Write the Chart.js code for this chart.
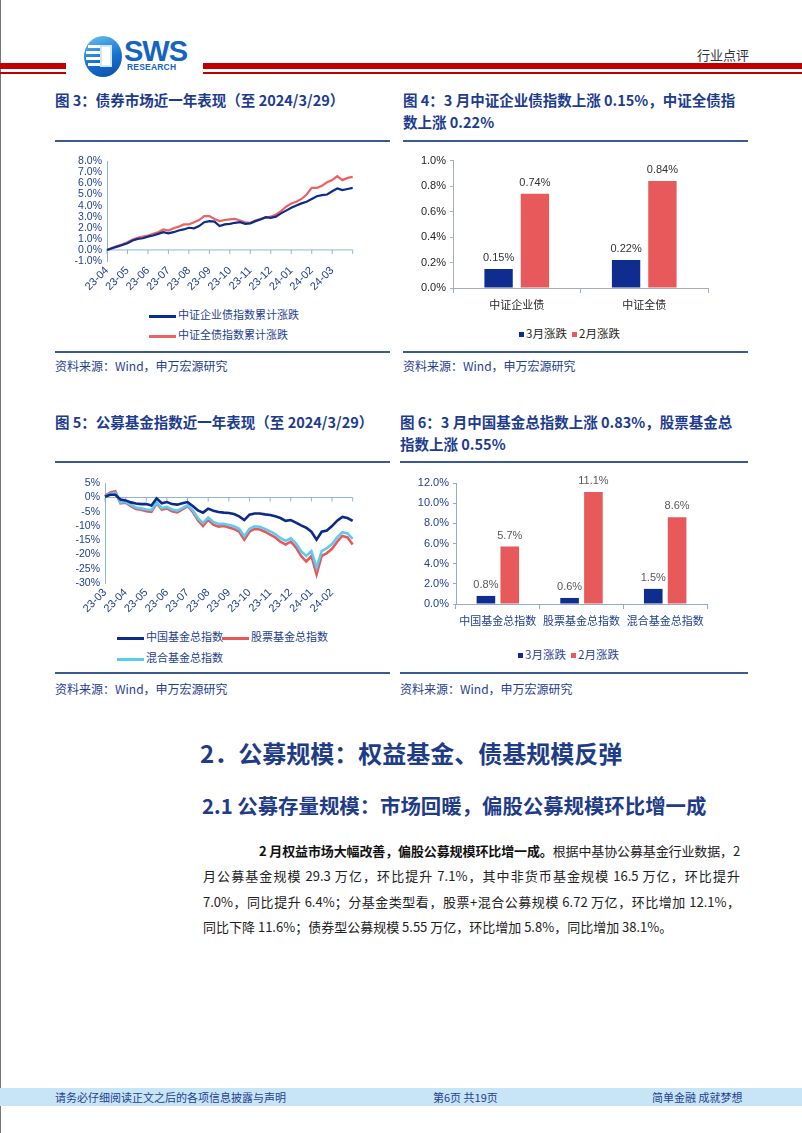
<!DOCTYPE html>
<html lang="zh-CN">
<head>
<meta charset="UTF-8">
<script src="https://cdn.jsdelivr.net/npm/chart.js"></script>
<style>
    body {
        margin: 0;
        width: 802px;
        height: 1133px;
        position: relative;
        overflow: hidden;
        background: #fff;
        font-family: 'Noto Sans CJK SC', sans-serif;
    }
    .abs { position: absolute; }
    .page-edge { left: 0; top: 0; width: 1px; height: 1133px; background: #777; }
    .red-thick { height: 6px; background: #c00000; top: 63px; }
    .red-thin { height: 2px; background: #c00000; top: 72px; }
    .fig-title {
        font-size: 14.5px;
        font-weight: bold;
        color: #1d3c8f;
        line-height: 22px;
    }
    .rule { height: 2px; background: #3b5a92; }
    .source { font-size: 12px; color: #1f3f8f; line-height: 18px; }
    .legend { font-size: 11px; line-height: 16px; white-space: nowrap; }
    .legend .ln { display: inline-block; width: 27px; height: 3px; vertical-align: middle; margin-right: 2px; }
    .legend .sq { display: inline-block; width: 5px; height: 5px; vertical-align: middle; margin-right: 2px; }
    .h2 { font-size: 24px; font-weight: bold; color: #1f3c88; line-height: 30px; }
    .h3 { font-size: 20.4px; font-weight: bold; color: #1f3c88; line-height: 28px; }
    .para { left: 203px; top: 838px; width: 537px; font-size: 13px; color: #222; line-height: 25.3px; }
    .para div { text-align: justify; text-align-last: justify; }
    .para div.first { padding-left: 56px; letter-spacing: -0.2px; }
    .para div.last { text-align-last: left; }
    .footer { left: 0; top: 1088px; width: 802px; height: 18px; background: #c8e5f8; }
    .footer span { position: absolute; font-size: 11px; color: #1f3f8f; line-height: 18px; top: 0; }
</style>
</head>
<body>
<div class="abs page-edge"></div>

<!-- header -->
<div class="abs red-thick" style="left:0;width:66px"></div>
<div class="abs red-thin" style="left:0;width:66px"></div>
<div class="abs red-thick" style="left:203px;width:599px"></div>
<div class="abs red-thin" style="left:203px;width:599px"></div>
<div class="abs" style="left:84px;top:36px;width:38px;height:41px;border-radius:50%;background:linear-gradient(160deg,#6cc3f5,#1673cf 55%,#0b4aa8)"></div>
<div class="abs" style="left:88px;top:45px;width:12px;height:3px;background:#fff"></div>
<div class="abs" style="left:86px;top:51px;width:14px;height:3px;background:#fff"></div>
<div class="abs" style="left:86px;top:57px;width:14px;height:3px;background:#fff"></div>
<div class="abs" style="left:88px;top:63px;width:12px;height:3px;background:#fff"></div>
<div class="abs" style="left:100px;top:45px;width:12px;height:22px;background:#fff;border:2px solid #cfe8fb;box-sizing:border-box"></div>
<div class="abs" style="left:124px;top:36px;font-family:'Liberation Sans',sans-serif;font-weight:bold;font-size:29px;color:#1565c0;letter-spacing:-1px;line-height:30px">SWS</div>
<div class="abs" style="left:127px;top:62px;font-family:'Liberation Sans',sans-serif;font-weight:bold;font-size:8.5px;color:#1565c0;line-height:10px;letter-spacing:0.2px">RESEARCH</div>
<div class="abs" style="left:697px;top:46px;font-size:13px;color:#333;line-height:18px">行业点评</div>

<!-- figure titles row 1 -->
<div class="abs fig-title" style="left:55px;top:89px">图 3：债券市场近一年表现（至 2024/3/29）</div>
<div class="abs fig-title" style="left:403px;top:89px;width:350px">图 4：3 月中证企业债指数上涨 0.15%，中证全债指<br>数上涨 0.22%</div>
<div class="abs rule" style="left:55px;top:140px;width:335px"></div>
<div class="abs rule" style="left:403px;top:140px;width:345px"></div>

<div class="abs" style="left:55px;top:150px;width:310px;height:150px"><canvas id="bondLine"></canvas></div>
<div class="abs legend" style="left:149px;top:306px;color:#1f3f8f"><span class="ln" style="background:#0c2c8c"></span>中证企业债指数累计涨跌</div>
<div class="abs legend" style="left:149px;top:326px;color:#1f3f8f"><span class="ln" style="background:#ec6262"></span>中证全债指数累计涨跌</div>

<div class="abs" style="left:403px;top:150px;width:320px;height:170px"><canvas id="bondBar"></canvas></div>
<div class="abs legend" style="left:519px;top:325px;color:#222;font-size:11.5px"><span class="sq" style="background:#0e2d8e"></span>3月涨跌</div>
<div class="abs legend" style="left:572px;top:325px;color:#222;font-size:11.5px"><span class="sq" style="background:#e8595c"></span>2月涨跌</div>

<div class="abs rule" style="left:55px;top:351px;width:335px"></div>
<div class="abs rule" style="left:403px;top:351px;width:345px"></div>
<div class="abs source" style="left:55px;top:357px">资料来源：Wind，申万宏源研究</div>
<div class="abs source" style="left:403px;top:357px">资料来源：Wind，申万宏源研究</div>

<!-- figure titles row 2 -->
<div class="abs fig-title" style="left:55px;top:411px">图 5：公募基金指数近一年表现（至 2024/3/29）</div>
<div class="abs fig-title" style="left:400px;top:411px;width:355px">图 6：3 月中国基金总指数上涨 0.83%，股票基金总<br>指数上涨 0.55%</div>
<div class="abs rule" style="left:55px;top:461px;width:335px"></div>
<div class="abs rule" style="left:400px;top:461px;width:348px"></div>

<div class="abs" style="left:55px;top:472px;width:310px;height:150px"><canvas id="fundLine"></canvas></div>
<div class="abs legend" style="left:117px;top:628px;color:#1f3f8f"><span class="ln" style="background:#0c2a88"></span>中国基金总指数</div>
<div class="abs legend" style="left:222px;top:628px;color:#1f3f8f"><span class="ln" style="background:#e85858"></span>股票基金总指数</div>
<div class="abs legend" style="left:117px;top:649px;color:#1f3f8f"><span class="ln" style="background:#5ccbf2"></span>混合基金总指数</div>

<div class="abs" style="left:403px;top:470px;width:320px;height:165px"><canvas id="fundBar"></canvas></div>
<div class="abs legend" style="left:518px;top:646px;color:#1f3f8f;font-size:11.5px"><span class="sq" style="background:#0e2d8e"></span>3月涨跌</div>
<div class="abs legend" style="left:571px;top:646px;color:#1f3f8f;font-size:11.5px"><span class="sq" style="background:#e8595c"></span>2月涨跌</div>

<div class="abs rule" style="left:55px;top:672px;width:335px"></div>
<div class="abs rule" style="left:400px;top:672px;width:348px"></div>
<div class="abs source" style="left:55px;top:680px">资料来源：Wind，申万宏源研究</div>
<div class="abs source" style="left:400px;top:680px">资料来源：Wind，申万宏源研究</div>

<!-- section text -->
<div class="abs h2" style="left:200px;top:738px">2．公募规模：权益基金、债基规模反弹</div>
<div class="abs h3" style="left:202px;top:791px">2.1 公募存量规模：市场回暖，偏股公募规模环比增一成</div>
<div class="abs para">
    <div class="first"><b style="color:#111">2 月权益市场大幅改善，偏股公募规模环比增一成。</b>根据中基协公募基金行业数据，2</div>
    <div>月公募基金规模 29.3 万亿，环比提升 7.1%，其中非货币基金规模 16.5 万亿，环比提升</div>
    <div>7.0%，同比提升 6.4%；分基金类型看，股票+混合公募规模 6.72 万亿，环比增加 12.1%，</div>
    <div class="last">同比下降 11.6%；债券型公募规模 5.55 万亿，环比增加 5.8%，同比增加 38.1%。</div>
</div>

<!-- footer -->
<div class="abs footer">
    <span style="left:55px">请务必仔细阅读正文之后的各项信息披露与声明</span>
    <span style="left:433px">第6页 共19页</span>
    <span style="left:652px">简单金融 成就梦想</span>
</div>

<script>
    // 图3 债券指数累计涨跌（%），每月4个观测点
    const bondMonths = ['23-04', '23-05', '23-06', '23-07', '23-08', '23-09', '23-10', '23-11', '23-12', '24-01', '24-02', '24-03'];
    const corpBond = [0, 0.15, 0.3, 0.45, 0.6, 0.85, 1.0, 1.05, 1.2, 1.3, 1.45, 1.6, 1.5, 1.6, 1.75, 1.85,
        2.0, 1.95, 2.15, 2.5, 2.6, 2.55, 2.15, 2.3, 2.35, 2.45, 2.5, 2.35, 2.4, 2.6, 2.75, 2.95,
        2.9, 3.0, 3.3, 3.55, 3.8, 4.0, 4.2, 4.35, 4.6, 4.85, 4.95, 5.0, 5.3, 5.55, 5.4, 5.5, 5.6];
    const allBond = [0, 0.2, 0.35, 0.5, 0.7, 0.95, 1.1, 1.2, 1.3, 1.45, 1.6, 1.85, 1.75, 1.95, 2.1, 2.3,
        2.3, 2.5, 2.7, 3.05, 3.05, 2.8, 2.6, 2.7, 2.75, 2.8, 2.65, 2.5, 2.45, 2.65, 2.8, 2.9,
        3.0, 3.2, 3.5, 3.9, 4.2, 4.35, 4.6, 5.0, 5.6, 5.6, 5.8, 6.1, 6.3, 6.65, 6.3, 6.5, 6.6];

    // 图4
    const bondCats = ['中证企业债', '中证全债'];
    const bondMar = [0.15, 0.22];
    const bondFeb = [0.74, 0.84];

    // 图5 基金指数累计涨跌（%）
    const fundMonths = ['23-03', '23-04', '23-05', '23-06', '23-07', '23-08', '23-09', '23-10', '23-11', '23-12', '24-01', '24-02'];
    const cnFund = [0.3, 1.0, 1.0, -0.7, -1.0, -1.7, -2.1, -2.3, -2.3, -2.8, -0.3, -2.0, -1.6, -2.3, -2.5, -2.0,
        -1.6, -3.0, -4.5, -5.3, -3.9, -4.6, -5.1, -5.3, -5.4, -5.8, -6.6, -7.9, -6.0, -5.6, -5.6, -5.9,
        -6.1, -6.6, -7.2, -8.2, -7.9, -8.8, -9.8, -10.6, -12.0, -14.8, -12.0, -11.6, -10.0, -8.1, -6.8, -7.2, -8.2];
    const stockFund = [0.5, 1.8, 2.2, -2.0, -1.8, -3.0, -4.0, -4.3, -4.8, -5.0, -2.0, -4.2, -3.8, -4.8, -5.2, -4.2,
        -3.0, -5.0, -8.0, -10.0, -7.8, -9.5, -10.2, -10.0, -10.5, -11.0, -12.0, -14.8, -12.0, -11.0, -11.2, -12.0,
        -13.0, -14.0, -15.5, -16.5, -15.5, -17.5, -20.5, -22.5, -20.5, -27.0, -20.5, -19.5, -18.0, -15.5, -13.5, -14.0, -16.5];
    const mixFund = [0.3, 1.3, 1.6, -1.8, -1.5, -2.6, -3.5, -3.8, -4.2, -4.4, -1.7, -3.7, -3.3, -4.2, -4.6, -3.7,
        -2.7, -4.5, -7.2, -9.0, -7.0, -8.6, -9.3, -9.2, -9.6, -10.1, -11.0, -13.6, -11.0, -10.1, -10.3, -11.0,
        -11.9, -12.8, -14.2, -15.2, -14.3, -16.1, -18.8, -20.5, -18.8, -24.5, -18.8, -17.8, -16.3, -14.0, -12.2, -12.6, -14.5];

    // 图6
    const fundCats = ['中国基金总指数', '股票基金总指数', '混合基金总指数'];
    const fundMar = [0.8, 0.6, 1.5];
    const fundFeb = [5.7, 11.1, 8.6];

    const NAVY = '#1f3f8f';
    const FONT = "'Liberation Sans', 'Noto Sans CJK SC', sans-serif";
    Chart.defaults.font.family = FONT;
    Chart.defaults.animation = false;

    const weekLabels = (months, n) => Array.from({length: n}, (_, i) => (i % 4 === 0 && months[i / 4]) ? months[i / 4] : '');

    // 0% 处的横轴和刻度
    const zeroAxis = {
        id: 'zeroAxis',
        beforeDatasetsDraw(chart, args, opts) {
            const {ctx, chartArea, scales} = chart;
            const y0 = scales.y.getPixelForValue(0);
            ctx.save();
            ctx.strokeStyle = opts.color;
            ctx.lineWidth = 1;
            ctx.beginPath();
            ctx.moveTo(chartArea.left, y0);
            ctx.lineTo(chartArea.right, y0);
            chart.data.labels.forEach((l, i) => {
                if (l || i === chart.data.labels.length - 1) {
                    const x = scales.x.getPixelForValue(i);
                    ctx.moveTo(x, y0);
                    ctx.lineTo(x, y0 + 4);
                }
            });
            ctx.stroke();
            ctx.restore();
        }
    };

    // 柱顶数值
    const barValues = {
        id: 'barValues',
        afterDatasetsDraw(chart, args, opts) {
            const {ctx} = chart;
            ctx.save();
            ctx.font = '11px ' + FONT;
            ctx.fillStyle = opts.color;
            ctx.textAlign = 'center';
            ctx.textBaseline = 'middle';
            chart.data.datasets.forEach((ds, di) => {
                chart.getDatasetMeta(di).data.forEach((bar, i) => {
                    ctx.fillText(ds.data[i].toFixed(opts.digits) + '%', bar.x, bar.y - 11);
                });
            });
            ctx.restore();
        }
    };

    function makeLine(id, labels, datasets, y, yWidth) {
        return new Chart(document.getElementById(id), {
            type: 'line',
            data: {labels: labels, datasets: datasets},
            options: {
                responsive: true,
                maintainAspectRatio: false,
                layout: {padding: {top: 10, right: 9, left: 0, bottom: 0}},
                elements: {point: {radius: 0}, line: {tension: 0}},
                plugins: {legend: {display: false}, tooltip: {enabled: false}, zeroAxis: {color: '#8db3e2'}},
                scales: {
                    x: {
                        grid: {display: false, drawTicks: false},
                        border: {display: false},
                        ticks: {
                            autoSkip: false, minRotation: 45, maxRotation: 45, padding: 3,
                            color: NAVY, font: {size: 11},
                            callback: function (v) { return this.getLabelForValue(v); }
                        },
                        afterFit: s => { s.height = 39; }
                    },
                    y: {
                        min: y.min, max: y.max,
                        grid: {display: false, drawTicks: false},
                        border: {color: '#8db3e2'},
                        ticks: {stepSize: y.step, autoSkip: false, color: NAVY, font: {size: 10.5}, padding: 5, callback: y.fmt},
                        afterFit: s => { s.width = yWidth; }
                    }
                }
            },
            plugins: [zeroAxis]
        });
    }

    function makeBar(id, cats, mar, feb, y, opts) {
        return new Chart(document.getElementById(id), {
            type: 'bar',
            data: {
                labels: cats,
                datasets: [
                    {label: '3月涨跌', data: mar, backgroundColor: '#0e2d8e'},
                    {label: '2月涨跌', data: feb, backgroundColor: '#e8595c'}
                ]
            },
            options: {
                responsive: true,
                maintainAspectRatio: false,
                categoryPercentage: 0.57,
                barPercentage: 0.78,
                layout: {padding: {top: opts.top, right: opts.right, left: 0, bottom: 0}},
                plugins: {legend: {display: false}, tooltip: {enabled: false}, barValues: {color: opts.valueColor, digits: opts.digits}},
                scales: {
                    x: {
                        grid: {drawOnChartArea: false, tickLength: 5, color: opts.axisColor},
                        border: {color: opts.axisColor},
                        ticks: {color: opts.textColor, font: {size: 11}, padding: 6},
                        afterFit: s => { s.height = opts.xHeight; }
                    },
                    y: {
                        min: 0, max: y.max,
                        grid: {drawOnChartArea: false, tickLength: 3, color: opts.axisColor},
                        border: {color: opts.axisColor},
                        ticks: {stepSize: y.step, autoSkip: false, color: opts.textColor, font: {size: 11}, padding: 4,
                            callback: v => v.toFixed(1) + '%'},
                        afterFit: s => { s.width = opts.yWidth; }
                    }
                }
            },
            plugins: [barValues]
        });
    }

    makeLine('bondLine', weekLabels(bondMonths, corpBond.length), [
        {label: '中证企业债指数累计涨跌', data: corpBond, borderColor: '#0c2c8c', borderWidth: 2.2},
        {label: '中证全债指数累计涨跌', data: allBond, borderColor: '#ec6262', borderWidth: 2.2}
    ], {min: -1, max: 8, step: 1, fmt: v => v.toFixed(1) + '%'}, 52);

    makeLine('fundLine', weekLabels(fundMonths, cnFund.length), [
        {label: '中国基金总指数', data: cnFund, borderColor: '#0c2a88', borderWidth: 2.6, order: 0},
        {label: '股票基金总指数', data: stockFund, borderColor: '#e85858', borderWidth: 2.6, order: 2},
        {label: '混合基金总指数', data: mixFund, borderColor: '#5ccbf2', borderWidth: 2.6, order: 1}
    ], {min: -30, max: 5, step: 5, fmt: v => v + '%'}, 50);

    makeBar('bondBar', bondCats, bondMar, bondFeb, {max: 1, step: 0.2},
        {top: 9, right: 15, yWidth: 50, xHeight: 32, axisColor: '#a3adbf', textColor: '#262626', valueColor: '#333', digits: 2});

    makeBar('fundBar', fundCats, fundMar, fundFeb, {max: 12, step: 2},
        {top: 13, right: 16, yWidth: 53, xHeight: 31, axisColor: '#93aad6', textColor: NAVY, valueColor: '#595959', digits: 1});
</script>
</body>
</html>
